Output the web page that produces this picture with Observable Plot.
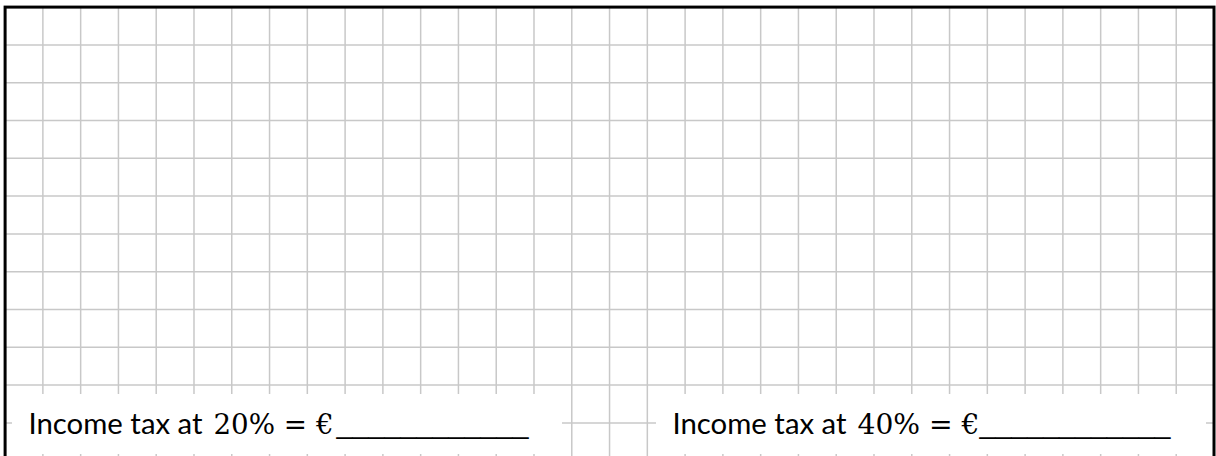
<!DOCTYPE html>
<html>
<head>
<meta charset="utf-8">
<script src="https://cdn.jsdelivr.net/npm/d3@7"></script>
<script src="https://cdn.jsdelivr.net/npm/@observablehq/plot@0.6"></script>
<style>
  html, body { margin: 0; padding: 0; background: #fff; overflow: hidden; }
  #chart svg { display: block; }
</style>
</head>
<body>
<div id="chart"></div>
<script>
// ---- data ----
const gridColumns = [1,2,3,4,5,6,7,8,9,10,11,12,13,14,15,16,17,18,19,20,21,22,23,24,25,26,27,28,29,30,31];
const gridRows = [1,2,3,4,5,6,7,8,9,10,11];
const textLabels = ["Income tax at", "Income tax at"];
const rateLabels = ["20% = €", "40% = €"];
const blankLabels = ["____________", "____________"];

// ---- layout (pixels) ----
const W = 1216, H = 464;
const fLeft = 4.6, fRight = 1213.5, fTop = 6.6, fBottom = 460.2;
const nCols = 32, nRows = 12;
const px = v => (v - fLeft) / (fRight - fLeft) * nCols;   // pixel -> x data
const py = v => (v - fTop) / (fBottom - fTop) * nRows;    // pixel -> y data
const boxOffset = 644;
const boxes = [0, 1].map(i => ({x1: px(12 + i * boxOffset), x2: px(562 + i * boxOffset), y1: py(394), y2: py(454)}));
const baseline = py(433);

const chart = Plot.plot({
  width: W,
  height: H,
  marginLeft: fLeft,
  marginRight: W - fRight,
  marginTop: fTop,
  marginBottom: H - fBottom,
  x: {domain: [0, nCols], axis: null},
  y: {domain: [0, nRows], range: [fTop, fBottom], axis: null},
  marks: [
    Plot.ruleX(gridColumns, {x: d => d, stroke: "#c8c8c8", strokeWidth: 1.5}),
    Plot.ruleY(gridRows, {y: d => d, stroke: "#c8c8c8", strokeWidth: 1.5}),
    Plot.rect(boxes, {x1: "x1", x2: "x2", y1: "y1", y2: "y2", fill: "white"}),
    Plot.text(textLabels, {
      x: (d, i) => px(28 + i * boxOffset), y: () => baseline, text: d => d,
      textAnchor: "start", lineAnchor: "bottom",
      fontFamily: "Lato", fontSize: 28, fill: "#000"
    }),
    Plot.text(rateLabels, {
      x: (d, i) => px(213 + i * boxOffset), y: () => baseline, text: d => d,
      textAnchor: "start", lineAnchor: "bottom",
      fontFamily: "DejaVu Serif", fontSize: 28, fill: "#000"
    }),
    Plot.text(blankLabels, {
      x: (d, i) => px(336 + i * (boxOffset - 1)), y: () => baseline, text: d => d,
      textAnchor: "start", lineAnchor: "bottom",
      fontFamily: "Liberation Sans", fontSize: 26, fill: "#000"
    }),
    Plot.frame({stroke: "#000", strokeWidth: 3})
  ]
});

document.getElementById("chart").append(chart);

// fit text runs to the reference widths
const groups = chart.querySelectorAll('g[aria-label="text"]');
const lengths = [[174, 174], [120, 122], [192, 191]];
groups.forEach((g, gi) => {
  g.querySelectorAll("text").forEach((t, ti) => {
    t.setAttribute("textLength", lengths[gi][ti]);
    t.setAttribute("lengthAdjust", "spacingAndGlyphs");
  });
});
</script>
</body>
</html>
